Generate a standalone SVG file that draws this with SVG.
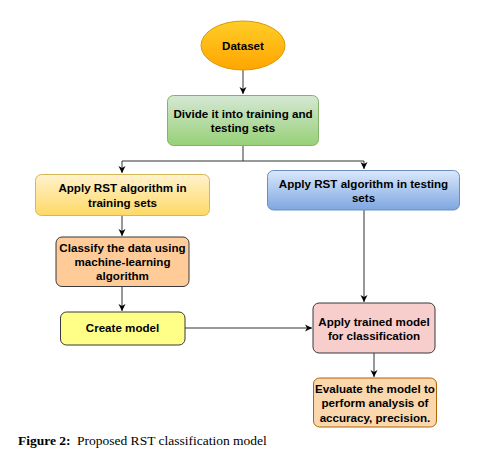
<svg xmlns="http://www.w3.org/2000/svg" width="493" height="461" viewBox="0 0 493 461">
<style>
.t{font-family:"Liberation Sans",Arial,sans-serif;font-size:11.6px;font-weight:bold;fill:#000;text-anchor:middle}
.c{fill:none;stroke:#333;stroke-width:1}
.cap{font-family:"Liberation Serif","Times New Roman",serif;font-size:13.5px;fill:#000}
</style>
<defs>
<linearGradient id="gOr" x1="0" y1="0" x2="0" y2="1"><stop offset="0" stop-color="#ffcd28"/><stop offset="1" stop-color="#ffa500"/></linearGradient>
<linearGradient id="gGr" x1="0" y1="0" x2="0" y2="1"><stop offset="0" stop-color="#d5e8d4"/><stop offset="1" stop-color="#97d077"/></linearGradient>
<linearGradient id="gYe" x1="0" y1="0" x2="0" y2="1"><stop offset="0" stop-color="#fff2cc"/><stop offset="1" stop-color="#ffd966"/></linearGradient>
<linearGradient id="gBl" x1="0" y1="0" x2="0" y2="1"><stop offset="0" stop-color="#dae8fc"/><stop offset="1" stop-color="#7ea6e0"/></linearGradient>
<marker id="ar" markerWidth="8" markerHeight="8" refX="7" refY="4" orient="auto" markerUnits="userSpaceOnUse"><path d="M0,0.5 L7,4 L0,7.5 L2,4 Z" fill="#000"/></marker>
</defs>
<rect width="493" height="461" fill="#fff"/>
<g id="connectors">
<path class="c" d="M243,70 V94" marker-end="url(#ar)"/>
<path class="c" d="M243,145 V161 H122 V173" marker-end="url(#ar)"/>
<path class="c" d="M243,161 H364 V169" marker-end="url(#ar)"/>
<path class="c" d="M122,216 V236" marker-end="url(#ar)"/>
<path class="c" d="M122,287 V311" marker-end="url(#ar)"/>
<path class="c" d="M185,328 H312" marker-end="url(#ar)"/>
<path class="c" d="M364,210 V302" marker-end="url(#ar)"/>
<path class="c" d="M374,353 V377" marker-end="url(#ar)"/>
</g>
<g id="dataset">
<ellipse cx="243" cy="45.5" rx="42" ry="24.5" fill="url(#gOr)" stroke="#d79b00"/>
<text class="t" x="243" y="50">Dataset</text>
</g>
<g id="divide">
<rect x="167.5" y="95.5" width="151" height="50" rx="6" fill="url(#gGr)" stroke="#82b366"/>
<text class="t" x="243" y="118">Divide it into training and</text>
<text class="t" x="243" y="132">testing sets</text>
</g>
<g id="rst-training">
<rect x="35.5" y="174.5" width="174" height="41" rx="6" fill="url(#gYe)" stroke="#d6b656"/>
<text class="t" x="122.5" y="192">Apply RST algorithm in</text>
<text class="t" x="122.5" y="206.5">training sets</text>
</g>
<g id="rst-testing">
<rect x="267.5" y="170.5" width="192" height="39.5" rx="6" fill="url(#gBl)" stroke="#6c8ebf"/>
<text class="t" x="363.5" y="188">Apply RST algorithm in testing</text>
<text class="t" x="363.5" y="201.5">sets</text>
</g>
<g id="classify">
<rect x="56" y="237" width="133" height="49.5" rx="6" fill="#ffcc99" stroke="#36393d"/>
<text class="t" x="122.5" y="252">Classify the data using</text>
<text class="t" x="122.5" y="266">machine-learning</text>
<text class="t" x="122.5" y="280">algorithm</text>
</g>
<g id="create-model">
<rect x="60.5" y="312" width="124.5" height="33" rx="6" fill="#ffff88" stroke="#36393d"/>
<text class="t" x="122.5" y="332">Create model</text>
</g>
<g id="apply-trained">
<rect x="313" y="303" width="122" height="50" rx="6" fill="#f8cecc" stroke="#36393d"/>
<text class="t" x="374" y="326">Apply trained model</text>
<text class="t" x="374" y="340">for classification</text>
</g>
<g id="evaluate">
<rect x="313.5" y="378" width="123" height="49" rx="6" fill="#fad7ac" stroke="#b46504"/>
<text class="t" x="375" y="393">Evaluate the model to</text>
<text class="t" x="375" y="407">perform analysis of</text>
<text class="t" x="375" y="421.5">accuracy, precision.</text>
</g>
<g id="caption">
<text class="cap" x="18" y="445"><tspan font-weight="bold">Figure 2:</tspan><tspan x="77">Proposed RST classification model</tspan></text>
</g>
</svg>
